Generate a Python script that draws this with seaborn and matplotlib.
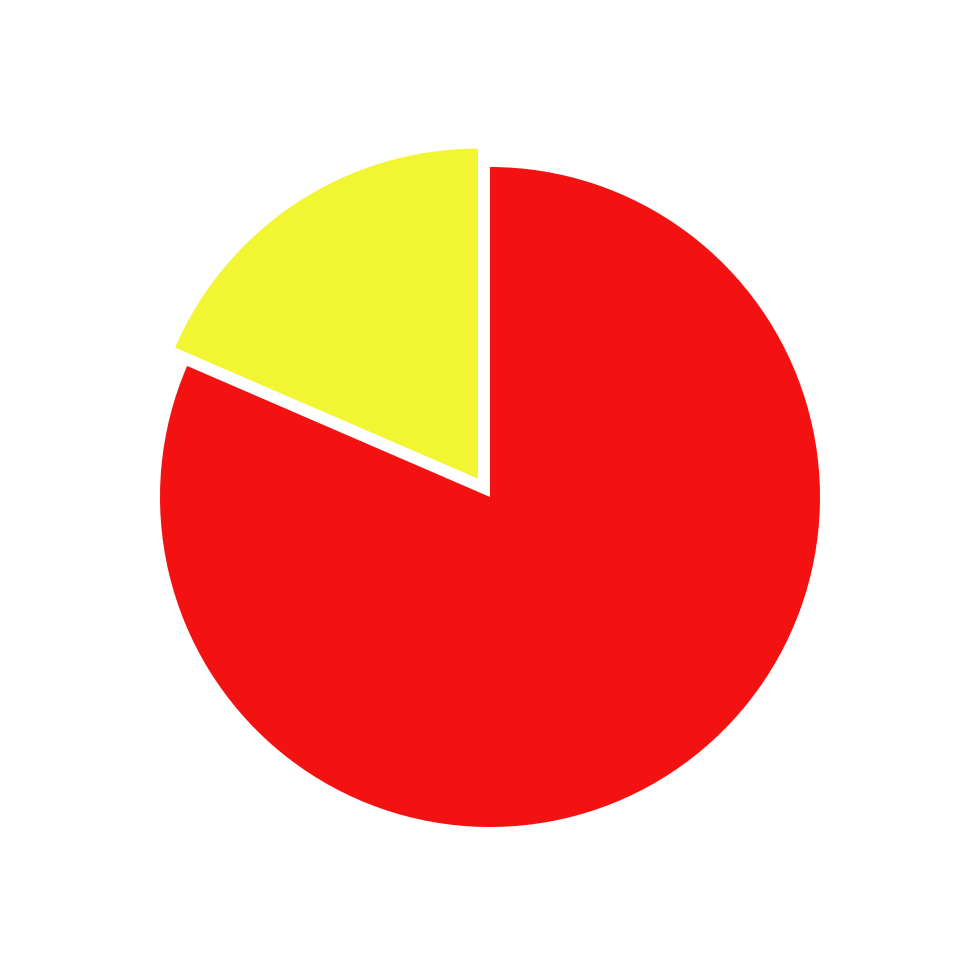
import matplotlib
matplotlib.use("Agg")
import matplotlib.pyplot as plt
import seaborn as sns

sns.set_theme(style="white")

# slice shares, first slice starts at 12 o'clock and runs counter-clockwise
labels = ["yellow", "red"]
shares = [18.5, 81.5]
colors = ["#F2F531", "#F31111"]

fig = plt.figure(figsize=(9.8, 9.8), dpi=100)
ax = fig.add_axes([0, 0, 1, 1])

# explode is in data units here (axes run in pixels), so ~22 px pull-out
ax.pie(
    shares,
    colors=colors,
    explode=[22, 0],
    startangle=90,
    counterclock=True,
    center=(490, 483),
    radius=330,
    wedgeprops=dict(linewidth=0),
)

ax.set_xlim(0, 980)
ax.set_ylim(0, 980)
ax.set_aspect("equal")
ax.axis("off")

fig.savefig("out.png", dpi=100, facecolor="white")
